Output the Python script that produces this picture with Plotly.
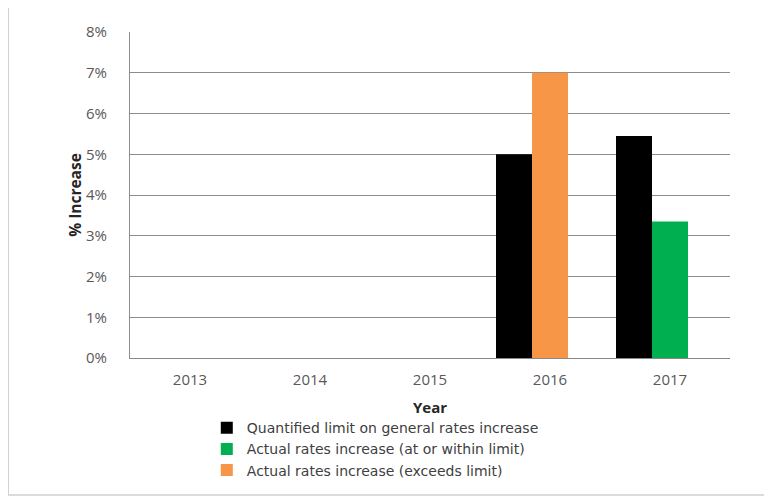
import plotly.graph_objects as go

years = ["2013", "2014", "2015", "2016", "2017"]
limit_vals = [None, None, None, 5.0, 5.45]
within_vals = [None, None, None, None, 3.35]
exceeds_vals = [None, None, None, 7.0, None]
y_ticks = [0, 1, 2, 3, 4, 5, 6, 7, 8]
y_tick_labels = [f"{v}%" for v in y_ticks]

FONT = "Open Sans, Liberation Sans, Arial"
fig = go.Figure()
fig.add_trace(go.Bar(x=years, y=limit_vals, name="Quantified limit on general rates increase",
                     marker=dict(color="#000000", line=dict(width=0)), offset=-0.45, width=0.3))
fig.add_trace(go.Bar(x=years, y=within_vals, name="Actual rates increase (at or within limit)",
                     marker=dict(color="#00B050", line=dict(width=0)), offset=-0.15, width=0.3))
fig.add_trace(go.Bar(x=years, y=exceeds_vals, name="Actual rates increase (exceeds limit)",
                     marker=dict(color="#F79646", line=dict(width=0)), offset=-0.15, width=0.3))

# page body adds an 8px offset; margins compensate so the plot area sits at x 130-730, y 32-358
fig.update_layout(
    width=772, height=500,
    margin=dict(l=122, r=50, t=24, b=150, autoexpand=False),
    paper_bgcolor="white", plot_bgcolor="white",
    barmode="overlay",
    font=dict(family=FONT, size=15, color="#595959"),
    showlegend=True,
    legend=dict(x=0.128, y=-0.166, xanchor="left", yanchor="top", orientation="v",
                font=dict(family="DejaVu Sans, Open Sans", size=14, color="#404040"),
                itemwidth=30, tracegroupgap=0, bgcolor="rgba(0,0,0,0)"),
    xaxis=dict(type="category", categoryorder="array", categoryarray=years,
               automargin=False,
               showgrid=False, showline=True, linecolor="#888888", linewidth=1,
               ticks="", ticklabelstandoff=8, tickfont=dict(size=15, color="#595959"),
               title=dict(text="<b>Year</b>", font=dict(size=15, color="#262626"), standoff=14)),
    yaxis=dict(range=[0, 8], tickvals=y_ticks, ticktext=y_tick_labels,
               automargin=False,
               showgrid=True, gridcolor="#8C8C8C", gridwidth=1,
               showline=True, linecolor="#8C8C8C", linewidth=1,
               zeroline=False, ticks="", ticklabelstandoff=19,
               tickfont=dict(size=15, color="#595959"),
               title=dict(text="<b>% Increase</b>", font=dict(size=15.5, color="#262626"), standoff=0)),
    shapes=[dict(type="rect", xref="paper", yref="paper", x0=-0.203, x1=1.062, y0=-0.42, y1=1.08,
                 line=dict(color="#D0D0D0", width=1.5), fillcolor="rgba(0,0,0,0)", layer="below")],
)
fig.write_html("out.html")
